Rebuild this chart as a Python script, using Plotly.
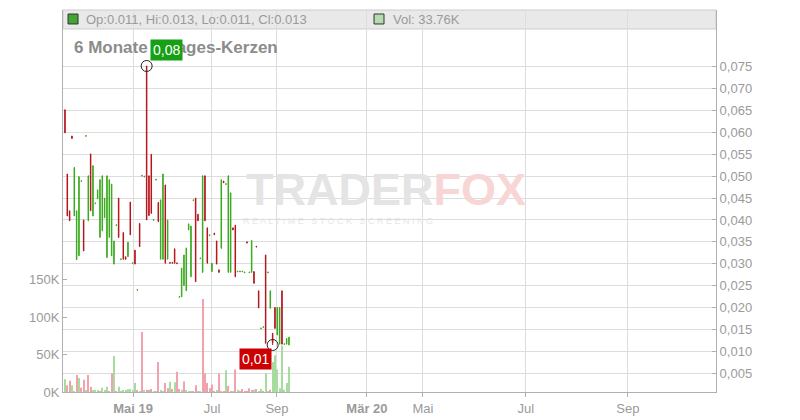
import numpy as np
import plotly.graph_objects as go

# ---------------- data ----------------
opens = [0.0652, 0.0505, 0.0421, 0.0592, 0.0409, 0.0309, 0.0318, 0.0488, 0.0400, 0.0591,
         0.0398, 0.0551, 0.0409, 0.0437, 0.0448, 0.0360, 0.0375, 0.0405, 0.0314, 0.0360,
         0.0318, 0.0299, 0.0387, 0.0450, 0.0309, 0.0371, 0.0316, 0.0316, 0.0441, 0.0300,
         0.0331, 0.0239, 0.0392, 0.0500, 0.0498, 0.0752, 0.0501, 0.0550, 0.0399, 0.0491,
         0.0440, 0.0310, 0.0310, 0.0480, 0.0310, 0.0303, 0.0303, 0.0334, 0.0302, 0.0223,
         0.0224, 0.0250, 0.0238, 0.0377, 0.0270, 0.0444, 0.0450, 0.0413, 0.0311, 0.0280,
         0.0501, 0.0382, 0.0364, 0.0282, 0.0370, 0.0352, 0.0286, 0.0335, 0.0489, 0.0481,
         0.0280, 0.0280, 0.0382, 0.0388, 0.0281, 0.0281, 0.0281, 0.0279, 0.0350, 0.0279,
         0.0280, 0.0282, 0.0340, 0.0238, 0.0151, 0.0154, 0.0320, 0.0279, 0.0198, 0.0141,
         0.0200, 0.0137, 0.0116, 0.0238, 0.0115, 0.0116, 0.0114]
closes = [0.0599, 0.0409, 0.0398, 0.0586, 0.0520, 0.0421, 0.0499, 0.0490, 0.0329, 0.0593,
          0.0501, 0.0421, 0.0524, 0.0439, 0.0469, 0.0492, 0.0501, 0.0450, 0.0501, 0.0492,
          0.0482, 0.0352, 0.0389, 0.0360, 0.0311, 0.0310, 0.0310, 0.0349, 0.0366, 0.0302,
          0.0299, 0.0241, 0.0339, 0.0502, 0.0500, 0.0400, 0.0410, 0.0415, 0.0401, 0.0493,
          0.0396, 0.0446, 0.0505, 0.0301, 0.0400, 0.0301, 0.0301, 0.0301, 0.0300, 0.0225,
          0.0290, 0.0320, 0.0336, 0.0391, 0.0386, 0.0446, 0.0259, 0.0398, 0.0313, 0.0501,
          0.0398, 0.0301, 0.0366, 0.0301, 0.0366, 0.0299, 0.0280, 0.0492, 0.0485, 0.0483,
          0.0501, 0.0462, 0.0377, 0.0270, 0.0283, 0.0283, 0.0283, 0.0281, 0.0347, 0.0281,
          0.0353, 0.0255, 0.0338, 0.0199, 0.0153, 0.0156, 0.0118, 0.0281, 0.0238, 0.0118,
          0.0152, 0.0200, 0.0200, 0.0116, 0.0117, 0.0129, 0.0132]
low_overrides = {89: 0.0114}

volumes = [17000, 9000, 15000, 9000, 1000, 22600, 18700, 5800, 16400, 1800,
           22600, 7000, 2500, 2000, 2000, 600, 5800, 2500, 7000, 1000,
           25000, 48000, 1000, 7000, 1000, 2500, 2500, 3500, 4000, 2000,
           12000, 2000, 1000, 80000, 2000, 3000, 2000, 4000, 1000, 1000,
           40000, 1500, 1000, 12000, 5000, 13800, 4000, 13000, 27000, 4000,
           3000, 14000, 2000, 1000, 1000, 1000, 9000, 1000, 1000, 124000,
           25000, 12000, 5000, 10000, 1000, 2000, 25000, 1000, 1000, 29000,
           8000, 1000, 1000, 30000, 3000, 1000, 4000, 1000, 1000, 5000,
           2000, 3000, 4000, 1000, 4000, 1000, 25000, 1000, 3000, 40000,
           49000, 30000, 5000, 62000, 3000, 12000, 33760]
vol_up = "udduudud" "dudduuudu" "uuddudu" "uuuuuu" "udududdduu" "duuddudud" \
         "duduuuddu" "uddddddudd" "duddudud" "ddddduduu" "duuduuu"

price_ticks = [0.005, 0.010, 0.015, 0.020, 0.025, 0.030, 0.035, 0.040,
               0.045, 0.050, 0.055, 0.060, 0.065, 0.070, 0.075]
vol_ticks = [0, 50000, 100000, 150000]
vol_ticktext = ["0K", "50K", "100K", "150K"]
month_labels = ["<b>Mai 19</b>", "Jul", "Sep", "<b>Mär 20</b>", "Mai", "Jul", "Sep"]
month_tick_slots = [29.16, 63.0, 90.86, 129.4, 153.4, 197.5, 241.2]
x_range = [-0.84, 279.0]

title_text = "6 Monate 1-Tages-Kerzen"

# ---------------- derived ----------------
n = len(opens)
idx = np.arange(n)
o = np.array(opens)
c = np.array(closes)
highs = np.maximum(o, c)
lows = np.minimum(o, c)
for k, v in low_overrides.items():
    lows[k] = v

vol_flags = list(vol_up.replace(" ", ""))
vol_flags = (vol_flags + ["u"] * n)[:n]

GREEN = "#3aaa1e"
RED = "#b4141c"
VGREEN = "#a6dc9e"
VRED = "#f0a3ac"
GRID = "#dddddd"
AXIS = "#b0b0b0"
TXT = "#9a9a9a"
FONT = "Liberation Sans, Arial, sans-serif"

fig = go.Figure()

fig.add_trace(go.Bar(
    x=idx, y=volumes, yaxis="y",
    marker=dict(color=[VGREEN if f == "u" else VRED for f in vol_flags], line=dict(width=0)),
    width=0.45, hoverinfo="skip",
))

fig.add_trace(go.Candlestick(
    x=idx, open=o, high=highs, low=lows, close=c, yaxis="y2",
    increasing=dict(line=dict(color=GREEN, width=1), fillcolor=GREEN),
    decreasing=dict(line=dict(color=RED, width=1), fillcolor=RED),
    whiskerwidth=0, hoverinfo="skip",
))

imax = int(np.argmax(highs))
imin = int(np.argmin(lows))
fig.add_trace(go.Scatter(
    x=[imax, imin], y=[highs[imax], lows[imin]], yaxis="y2", mode="markers",
    marker=dict(symbol="circle-open", size=11, color="#222222", line=dict(width=1)),
    hoverinfo="skip",
))

def de_fmt(v):
    return f"{v:.2f}".replace(".", ",")

last = n - 1
header = (f"Op:{opens[last]:.3f}, Hi:{highs[last]:.3f}, "
          f"Lo:{lows[last]:.3f}, Cl:{closes[last]:.3f}")
vol_text = f"Vol: {volumes[last] / 1000:.2f}K"

annotations = [
    dict(xref="paper", yref="paper", x=0.0322, y=0.9764, text=header, showarrow=False,
         xanchor="left", yanchor="middle", font=dict(color=TXT, size=13, family=FONT)),
    dict(xref="paper", yref="paper", x=0.5023, y=0.9764, text=vol_text, showarrow=False,
         xanchor="left", yanchor="middle", font=dict(color=TXT, size=13, family=FONT)),
    dict(xref="paper", yref="paper", x=0.0138, y=0.9031, text=f"<b>{title_text}</b>",
         showarrow=False, xanchor="left", yanchor="middle",
         font=dict(color="#8c8c8c", size=17, family=FONT)),
    dict(xref="x", yref="y2", x=imax, y=highs[imax], text=de_fmt(highs[imax]),
         showarrow=False, xanchor="left", yanchor="bottom", xshift=3, yshift=5,
         bgcolor="#15a015", borderpad=2, font=dict(color="white", size=14, family=FONT)),
    dict(xref="x", yref="y2", x=imin, y=lows[imin], text=de_fmt(lows[imin]),
         showarrow=False, xanchor="right", yanchor="top", xshift=-1, yshift=-3,
         bgcolor="#cc0000", borderpad=2, font=dict(color="white", size=14, family=FONT)),
    dict(xref="paper", yref="paper", x=0.4954, y=0.5314,
         text="<b><span style='color:#e4e4e4'>TRADER</span><span style='color:#f8d6d6'>FOX</span></b>",
         showarrow=False, xanchor="center", yanchor="middle",
         font=dict(size=45, family=FONT)),
    dict(xref="paper", yref="paper", x=0.421, y=0.4476,
         text="R E A L T I M E   S T O C K   S C R E E N I N G",
         showarrow=False, xanchor="center", yanchor="middle",
         font=dict(size=9, color="#e6e6e6", family=FONT)),
]

shapes = [
    dict(type="rect", xref="paper", yref="paper", x0=0, x1=1, y0=0.9503, y1=1.0,
         fillcolor="rgba(225,225,225,0.75)", line=dict(color="#cccccc", width=1), layer="below"),
    dict(type="rect", xref="paper", yref="paper", x0=0.0077, x1=0.0230, y0=0.9634, y1=0.9895,
         fillcolor="#44a632", line=dict(color="#333333", width=1)),
    dict(type="rect", xref="paper", yref="paper", x0=0.4763, x1=0.4916, y0=0.9634, y1=0.9895,
         fillcolor="#b4dcb0", line=dict(color="#333333", width=1)),
]

fig.update_layout(
    width=800, height=420,
    margin=dict(l=63, r=84, t=10, b=28),
    paper_bgcolor="white", plot_bgcolor="white",
    showlegend=False, separators=",.", boxgap=0.7,
    font=dict(family=FONT, color=TXT, size=13),
    annotations=annotations, shapes=shapes,
    xaxis=dict(range=x_range, tickmode="array", tickvals=month_tick_slots, ticktext=month_labels,
               showgrid=True, gridcolor=GRID, gridwidth=1, zeroline=False, automargin=False,
               ticks="outside", ticklen=4, tickcolor=AXIS, showline=True, linecolor=AXIS,
               tickfont=dict(size=13, color=TXT), rangeslider=dict(visible=False)),
    yaxis=dict(range=[0, 509333], side="left", tickmode="array", tickvals=vol_ticks,
               ticktext=vol_ticktext, showgrid=False, zeroline=False, ticks="inside",
               ticklen=4, tickcolor=AXIS, showline=True, linecolor=AXIS, automargin=False,
               tickfont=dict(size=13, color=TXT)),
    yaxis2=dict(range=[0.00066, 0.0880], side="right", overlaying="y", tickmode="array",
                tickvals=price_ticks, tickformat=".3f", showgrid=True, gridcolor=GRID,
                zeroline=False, ticks="inside", ticklen=4, tickcolor=AXIS, showline=True,
                linecolor=AXIS, automargin=False, tickfont=dict(size=13, color=TXT)),
)

fig.write_html("out.html", config={"displayModeBar": False},
               post_script="document.body.style.margin='0';")
